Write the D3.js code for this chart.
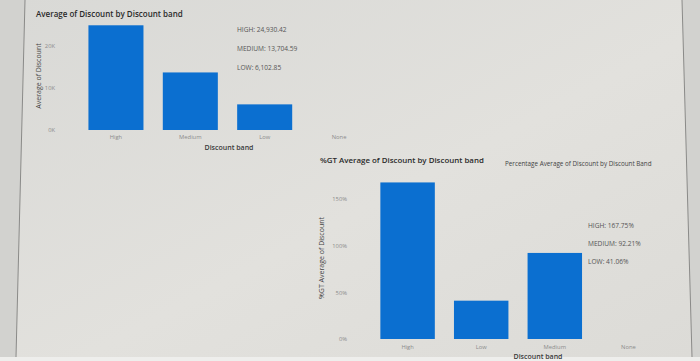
<!DOCTYPE html>
<html><head><meta charset="utf-8">
<script src="https://cdn.jsdelivr.net/npm/d3@7"></script>
<style>html,body{margin:0;padding:0;background:#d6d6d3;}svg{display:block;font-family:"Open Sans","Noto Sans",sans-serif;}</style>
</head><body>
<svg id="c" width="700" height="361"></svg>
<script>
// Data
const categories1 = ["High","Medium","Low","None"];
const values1 = [24930.42, 13704.59, 6102.85, null];
const ticks1 = [0, 10000, 20000];
const labels1 = ["HIGH: 24,930.42","MEDIUM: 13,704.59","LOW: 6,102.85"];

const categories2 = ["High","Low","Medium","None"];
const values2 = [167.75, 41.06, 92.21, null];
const ticks2 = [0, 50, 100, 150];
const labels2 = ["HIGH: 167.75%","MEDIUM: 92.21%","LOW: 41.06%"];

const svg = d3.select("#c");
const defs = svg.append("defs");
const g = defs.append("linearGradient").attr("id","bg").attr("x1","0").attr("x2","1").attr("y1","0").attr("y2","1");
g.append("stop").attr("offset","0").attr("stop-color","#d9d9d6");
g.append("stop").attr("offset","0.55").attr("stop-color","#e2e1dd");
g.append("stop").attr("offset","1").attr("stop-color","#dcdbd7");

// screen area
svg.append("rect").attr("width",700).attr("height",361).attr("fill","#d2d2cf");
svg.append("path").attr("d","M25,0 L682,0 L692,357 L16,357 Z").attr("fill","url(#bg)");
svg.append("rect").attr("x",0).attr("y",357).attr("width",700).attr("height",4).attr("fill","#eeeeec");
svg.append("line").attr("x1",25).attr("y1",0).attr("x2",16).attr("y2",357).attr("stroke","#8a8a88").attr("stroke-width",1);
svg.append("line").attr("x1",682).attr("y1",0).attr("x2",692).attr("y2",357).attr("stroke","#8a8a88").attr("stroke-width",1);

const barColor = "#0b6fd0";
const tickColor = "#8b8b8b";

function drawChart(opt){
  const x = d3.scaleBand().domain(opt.categories).range(opt.xr).paddingInner(opt.pi).paddingOuter(opt.po);
  const y = d3.scaleLinear().domain(opt.yd).range(opt.yr);
  const root = svg.append("g");
  root.append("text").attr("x",opt.title[0]).attr("y",opt.title[1]).text(opt.titleText)
    .attr("font-size",opt.titleSize).attr("font-weight",600).attr("fill","#2a2a2a");
  // y axis
  const ya = d3.axisLeft(y).tickValues(opt.ticks).tickSize(0).tickPadding(0).tickFormat(opt.fmt);
  const yg = root.append("g").attr("transform",`translate(${opt.yAxisX},0)`).call(ya);
  yg.select(".domain").remove();
  yg.selectAll("text").attr("font-size",5.8).attr("fill",tickColor).attr("font-family","Open Sans, sans-serif");
  // x axis
  const xa = d3.axisBottom(x).tickSize(0).tickPadding(opt.xPad);
  const xg = root.append("g").attr("transform",`translate(0,${opt.yr[0]})`).call(xa);
  xg.select(".domain").remove();
  xg.selectAll("text").attr("font-size",5.8).attr("fill",tickColor).attr("font-family","Open Sans, sans-serif");
  // bars
  root.selectAll("rect.bar").data(opt.categories.map((c,i)=>({c,v:opt.values[i]})).filter(d=>d.v!=null))
    .join("rect").attr("class","bar")
    .attr("x",d=>x(d.c)).attr("width",x.bandwidth())
    .attr("y",d=>y(d.v)).attr("height",d=>y(0)-y(d.v))
    .attr("fill",barColor);
  // axis titles
  root.append("text").attr("transform",`translate(${opt.yTitle[0]},${opt.yTitle[1]}) rotate(-90)`)
    .attr("text-anchor","middle").attr("font-size",7).attr("fill","#444").text(opt.yTitleText);
  root.append("text").attr("x",opt.xTitle[0]).attr("y",opt.xTitle[1]).attr("text-anchor","middle")
    .attr("font-size",7).attr("font-weight",600).attr("fill","#3a3a3a").text("Discount band");
  // annotations
  root.selectAll("text.ann").data(opt.labels).join("text").attr("class","ann")
    .attr("x",opt.ann[0]).attr("y",(d,i)=>opt.ann[1]+i*opt.annStep)
    .attr("font-size",6.6).attr("fill","#555").text(d=>d);
  return root;
}

drawChart({
  categories:categories1, values:values1, ticks:ticks1,
  xr:[81,374], pi:0.26, po:0.1, yd:[0,20000], yr:[130,46],
  fmt:d=>(d/1000)+"K", yAxisX:55, xPad:5,
  title:[36,17], titleText:"Average of Discount by Discount band", titleSize:8,
  yTitle:[41,76], yTitleText:"Average of Discount",
  xTitle:[229,150],
  labels:labels1, ann:[237,32], annStep:19
});

const c2 = drawChart({
  categories:categories2, values:values2, ticks:ticks2,
  xr:[373,663], pi:0.26, po:0.1, yd:[0,150], yr:[339,199],
  fmt:d=>d+"%", yAxisX:347, xPad:6,
  title:[320,163], titleText:"%GT Average of Discount by Discount band", titleSize:7.9,
  yTitle:[324,258], yTitleText:"%GT Average of Discount",
  xTitle:[538,359],
  labels:labels2, ann:[588,228], annStep:18
});
c2.append("text").attr("x",505).attr("y",166).attr("font-size",6.3).attr("fill","#444")
  .text("Percentage Average of Discount by Discount Band");
</script>
</body></html>
